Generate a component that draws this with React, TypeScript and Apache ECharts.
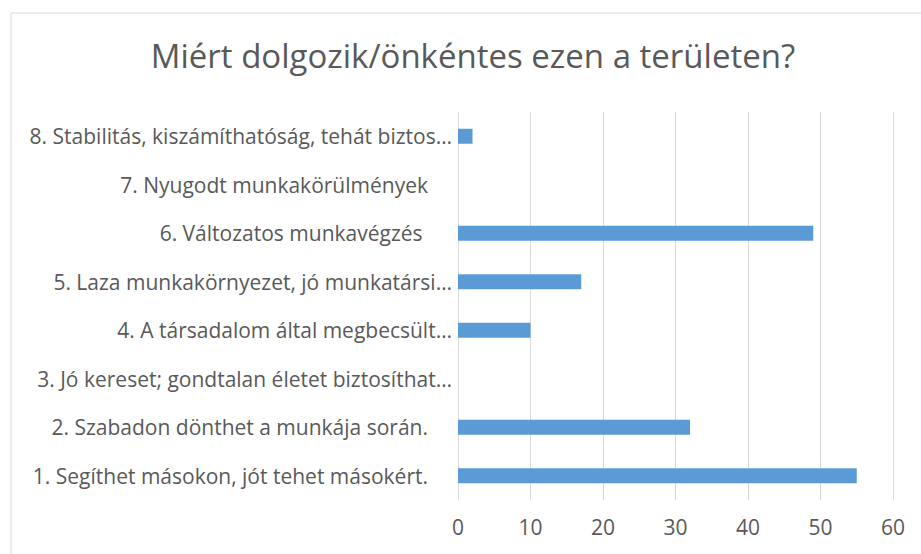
import React, { useEffect, useRef } from "react";
import * as echarts from "echarts";

const categories = [
  "1. Segíthet másokon, jót tehet másokért.",
  "2. Szabadon dönthet a munkája során.",
  "3. Jó kereset; gondtalan életet biztosíthat…",
  "4. A társadalom által megbecsült…",
  "5. Laza munkakörnyezet, jó munkatársi…",
  "6. Változatos munkavégzés ",
  "7. Nyugodt munkakörülmények",
  "8. Stabilitás, kiszámíthatóság, tehát biztos…",
];
const values = [55, 32, 0, 10, 17, 49, 0, 2];
const title = "Miért dolgozik/önkéntes ezen a területen?";

export default function App() {
  const ref = useRef<HTMLDivElement>(null);
  useEffect(() => {
    if (!ref.current) return;
    const chart = echarts.init(ref.current, null, { renderer: "svg" });
    const font = "'Open Sans', sans-serif";
    const labelStyle = { color: "#595959", fontSize: 21, fontFamily: font };
    chart.setOption({
      animation: false,
      backgroundColor: "#ffffff",
      textStyle: { fontFamily: font },
      title: {
        text: title,
        left: 468,
        textAlign: "center",
        top: 34,
        textStyle: { color: "#595959", fontSize: 33, fontWeight: "normal", fontFamily: font },
      },
      graphic: [
        {
          type: "rect",
          shape: { x: 11, y: 13, width: 940, height: 600 },
          style: { fill: "none", stroke: "#d9d9d9", lineWidth: 1 },
          silent: true,
          z: -1,
        },
      ],
      grid: { left: 458, right: 28, top: 112, bottom: 54, containLabel: false },
      xAxis: {
        type: "value",
        min: 0,
        max: 60,
        interval: 10,
        axisLine: { show: false },
        axisTick: { show: false },
        splitLine: { lineStyle: { color: "#d9d9d9", width: 1 } },
        axisLabel: { color: "#595959", fontSize: 21, margin: 16, fontFamily: font },
      },
      yAxis: {
        type: "category",
        data: categories,
        axisLine: { show: true, lineStyle: { color: "#d9d9d9" } },
        axisTick: { show: false },
        axisLabel: {
          ...labelStyle,
          margin: 6,
          formatter: (v: string) => (v.endsWith("…") ? `{e|${v}}` : `{n|${v}}`),
          rich: {
            e: { ...labelStyle },
            n: { ...labelStyle, padding: [0, 24, 0, 0] },
          },
        },
      },
      series: [
        {
          type: "bar",
          data: values,
          barWidth: 15,
          itemStyle: { color: "#5b9bd5" },
        },
      ],
    });
    return () => chart.dispose();
  }, []);
  return (
    <div
      ref={ref}
      style={{ position: "fixed", left: 0, top: 0, width: 921, height: 554 }}
    />
  );
}
